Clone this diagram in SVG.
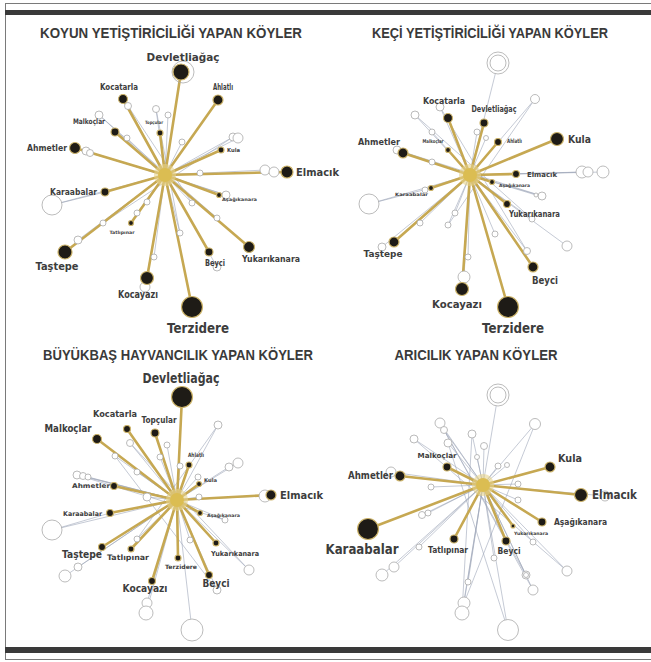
<svg xmlns="http://www.w3.org/2000/svg" width="651" height="662" viewBox="0 0 651 662">
<style>
.g{fill:none;stroke:#c6a852;stroke-width:2.6;stroke-linecap:round}
.t{fill:none;stroke:#9ea6b8;stroke-width:0.6}
.h{fill:#fff;stroke:#a9a9a9;stroke-width:0.8}
.hg{fill:none;stroke:#a9a9a9;stroke-width:0.8}
.n{fill:#1e1b16;stroke:#cdb46a;stroke-width:1.2}
.hub{fill:#dbbd52}
.glow{fill:#e8d48c;opacity:0.6}
text{font-family:"DejaVu Sans","Liberation Sans",sans-serif;font-weight:bold;fill:#3d3d3d}
.ttl{font-family:"Liberation Sans","DejaVu Sans",sans-serif;font-size:14px;fill:#3a3a3a}
</style>
<rect width="651" height="662" fill="#fff"/>
<g id="frame">
<line x1="5" y1="3.5" x2="651" y2="3.5" stroke="#7a7a7a" stroke-width="1"/>
<line x1="5.5" y1="3" x2="5.5" y2="659" stroke="#7a7a7a" stroke-width="1"/>
<rect x="5" y="10" width="646" height="5" fill="#3a3a3a"/>
<rect x="5" y="647" width="646" height="6" fill="#3a3a3a"/>
<line x1="5" y1="659.5" x2="651" y2="659.5" stroke="#7a7a7a" stroke-width="1"/>
</g>
<g id="titles">
<text class="ttl" x="171" y="38" text-anchor="middle" textLength="262" lengthAdjust="spacingAndGlyphs">KOYUN YETİŞTİRİCİLİĞİ YAPAN KÖYLER</text>
<text class="ttl" x="490" y="38" text-anchor="middle" textLength="236" lengthAdjust="spacingAndGlyphs">KEÇİ YETİŞTİRİCİLİĞİ YAPAN KÖYLER</text>
<text class="ttl" x="178" y="360" text-anchor="middle" textLength="270" lengthAdjust="spacingAndGlyphs">BÜYÜKBAŞ HAYVANCILIK YAPAN KÖYLER</text>
<text class="ttl" x="476" y="360" text-anchor="middle" textLength="163" lengthAdjust="spacingAndGlyphs">ARICILIK YAPAN KÖYLER</text>
</g>

<g id="connectors">
<path class="t" d="M165 175L128 106M165 175L99 115M165 175L156 109M165 175L168 115M165 175L182 142M165 175L233 137M165 175L238 138M165 175L86 151M165 175L90 153M165 175L127 138M165 175L265 170M165 175L274 172M165 175L52 205M165 175L226 195M165 175L200 173M165 175L137 213M165 175L103 223M165 175L78 240M165 175L192 203M165 175L180 233M165 175L217 218M165 175L154 257M165 175L217 267M165 175L145 287M165 175L147 202M52 205L105 192M128 106L192 203M99 115L217 218M233 137L103 223M156 109L180 233M86 151L226 195"/>
<path class="t" d="M470 175L498 63M470 175L415 115M470 175L440 107M470 175L535 99M470 175L432 132M470 175L582 172M470 175L588 172M470 175L603 172M470 175L369 204M470 175L425 190M470 175L542 196M470 175L536 195M470 175L567 246M470 175L527 251M470 175L468 257M470 175L464 277M470 175L495 234M470 175L448 225M470 175L455 213M470 175L420 223M470 175L382 247M470 175L532 219M470 175L477 132M470 175L486 138M470 175L397 150M470 175L432 162M369 204L431 188M415 115L532 219M440 107L527 251M535 99L448 225M397 150L542 196"/>
<path class="t" d="M177 500L218 425M177 500L77 475M177 500L83 476M177 500L88 477M177 500L229 467M177 500L238 463M177 500L265 496M177 500L52 530M177 500L65 576M177 500L78 567M177 500L147 603M177 500L146 613M177 500L192 630M177 500L249 570M177 500L225 520M177 500L217 590M177 500L190 540M177 500L137 539M177 500L130 443M177 500L167 445M177 500L115 456M177 500L160 457M177 500L180 466M177 500L137 472M177 500L198 477M177 500L147 497M177 500L199 497M52 530L110 513M130 443L249 570M115 456L217 590M218 425L137 539M77 475L225 520"/>
<path class="t" d="M483 485L498 395M483 485L440 423M483 485L535 424M483 485L414 439M483 485L444 430M483 485L448 443M483 485L472 434M483 485L484 446M483 485L477 457M483 485L498 466M483 485L507 465M483 485L391 472M483 485L431 487M483 485L518 484M483 485L422 515M483 485L428 513M483 485L533 542M483 485L567 571M483 485L526 575M483 485L533 590M483 485L468 582M483 485L464 603M483 485L462 613M483 485L508 630M483 485L382 575M483 485L394 567M483 485L419 547M483 485L494 558M483 485L605 496M483 485L518 500M440 423L526 575M414 439L567 571M444 430L533 590M535 424L464 603M448 443L508 630M472 434L462 613"/>
<path class="g" d="M165 175L181 72M165 175L218 100M165 175L123 99M165 175L115 132M165 175L160 133M165 175L75 148M165 175L221 150M165 175L287 172M165 175L105 192M165 175L219 195M165 175L131 223M165 175L65 252M165 175L209 252M165 175L249 247M165 175L147 278M165 175L192 307"/>
<path class="g" d="M470 175L448 118M470 175L484 123M470 175L498 142M470 175L557 139M470 175L403 153M470 175L448 150M470 175L516 174M470 175L492 182M470 175L431 188M470 175L507 204M470 175L394 242M470 175L533 267M470 175L462 289M470 175L508 307"/>
<path class="g" d="M177 500L182 397M177 500L127 429M177 500L97 439M177 500L155 433M177 500L189 465M177 500L199 484M177 500L114 486M177 500L271 495M177 500L110 513M177 500L200 513M177 500L102 547M177 500L131 549M177 500L178 558M177 500L216 543M177 500L209 575M177 500L152 581"/>
<path class="g" d="M483 485L447 467M483 485L550 467M483 485L400 476M483 485L581 495M483 485L542 522M483 485L513 526M483 485L506 541M483 485L454 539M483 485L368 529"/>
</g>

<g id="q1-minor">
<circle class="hg" cx="183" cy="72" r="11"/>
<circle class="h" cx="128" cy="106" r="3.5"/><circle class="h" cx="99" cy="115" r="4"/><circle class="h" cx="156" cy="109" r="3.5"/><circle class="h" cx="168" cy="115" r="3"/><circle class="h" cx="182" cy="142" r="3"/><circle class="h" cx="233" cy="137" r="4"/><circle class="h" cx="238" cy="138" r="5"/><circle class="h" cx="86" cy="151" r="4"/><circle class="h" cx="90" cy="153" r="3.5"/><circle class="h" cx="127" cy="138" r="3"/><circle class="h" cx="265" cy="170" r="5"/><circle class="h" cx="274" cy="172" r="5"/><circle class="h" cx="52" cy="205" r="10"/><circle class="h" cx="226" cy="195" r="4"/><circle class="h" cx="200" cy="173" r="3"/><circle class="h" cx="137" cy="213" r="3"/><circle class="h" cx="103" cy="223" r="3"/><circle class="h" cx="78" cy="240" r="4"/><circle class="h" cx="192" cy="203" r="3"/><circle class="h" cx="180" cy="233" r="3"/><circle class="h" cx="217" cy="218" r="3"/><circle class="h" cx="154" cy="257" r="3"/><circle class="h" cx="217" cy="267" r="4"/><circle class="h" cx="145" cy="287" r="5"/><circle class="h" cx="147" cy="202" r="3"/>
</g>
<g id="q2-minor">
<circle class="h" cx="498" cy="63" r="11"/><circle class="h" cx="498" cy="63" r="8"/>
<circle class="h" cx="415" cy="115" r="4"/><circle class="h" cx="440" cy="107" r="4"/><circle class="h" cx="535" cy="99" r="4.5"/><circle class="h" cx="432" cy="132" r="3"/><circle class="h" cx="582" cy="172" r="6"/><circle class="h" cx="588" cy="172" r="5"/><circle class="h" cx="603" cy="172" r="6"/><circle class="h" cx="369" cy="204" r="10"/><circle class="h" cx="425" cy="190" r="3"/><circle class="h" cx="542" cy="196" r="4"/><circle class="h" cx="536" cy="195" r="2"/><circle class="h" cx="567" cy="246" r="5"/><circle class="h" cx="527" cy="251" r="3.5"/><circle class="h" cx="468" cy="257" r="3"/><circle class="h" cx="464" cy="277" r="6"/><circle class="h" cx="495" cy="234" r="3"/><circle class="h" cx="448" cy="225" r="3"/><circle class="h" cx="455" cy="213" r="3"/><circle class="h" cx="420" cy="223" r="3"/><circle class="h" cx="382" cy="247" r="4"/><circle class="h" cx="532" cy="219" r="3"/><circle class="h" cx="477" cy="132" r="3"/><circle class="h" cx="486" cy="138" r="2.5"/><circle class="h" cx="397" cy="150" r="4"/><circle class="h" cx="432" cy="162" r="3"/>
</g>
<g id="q3-minor">
<circle class="h" cx="218" cy="425" r="4"/><circle class="h" cx="77" cy="475" r="4"/><circle class="h" cx="83" cy="476" r="3.5"/><circle class="h" cx="88" cy="477" r="3"/><circle class="h" cx="229" cy="467" r="4"/><circle class="h" cx="238" cy="463" r="5"/><circle class="h" cx="265" cy="496" r="6"/><circle class="h" cx="52" cy="530" r="10"/><circle class="h" cx="65" cy="576" r="6"/><circle class="h" cx="78" cy="567" r="4"/><circle class="h" cx="147" cy="603" r="5"/><circle class="h" cx="146" cy="613" r="7"/><circle class="h" cx="192" cy="630" r="11"/><circle class="h" cx="249" cy="570" r="5"/><circle class="h" cx="225" cy="520" r="3"/><circle class="h" cx="217" cy="590" r="4"/><circle class="h" cx="190" cy="540" r="3"/><circle class="h" cx="137" cy="539" r="3"/><circle class="h" cx="130" cy="443" r="3.5"/><circle class="h" cx="167" cy="445" r="3"/><circle class="h" cx="115" cy="456" r="3"/><circle class="h" cx="160" cy="457" r="3"/><circle class="h" cx="180" cy="466" r="3"/><circle class="h" cx="137" cy="472" r="3"/><circle class="h" cx="198" cy="477" r="3"/><circle class="h" cx="147" cy="497" r="4"/><circle class="h" cx="199" cy="497" r="3"/>
</g>
<g id="q4-minor">
<circle class="h" cx="498" cy="395" r="11"/><circle class="h" cx="498" cy="395" r="8"/>
<circle class="h" cx="440" cy="423" r="5"/><circle class="h" cx="535" cy="424" r="5.5"/><circle class="h" cx="414" cy="439" r="4"/><circle class="h" cx="444" cy="430" r="3.5"/><circle class="h" cx="448" cy="443" r="4"/><circle class="h" cx="472" cy="434" r="4"/><circle class="h" cx="484" cy="446" r="3.5"/><circle class="h" cx="477" cy="457" r="2.5"/><circle class="h" cx="498" cy="466" r="3"/><circle class="h" cx="507" cy="465" r="2.5"/><circle class="h" cx="391" cy="472" r="5"/><circle class="h" cx="431" cy="487" r="3"/><circle class="h" cx="518" cy="484" r="3"/><circle class="h" cx="422" cy="515" r="3.5"/><circle class="h" cx="428" cy="513" r="3"/><circle class="h" cx="533" cy="542" r="3"/><circle class="h" cx="567" cy="571" r="5"/><circle class="h" cx="526" cy="575" r="4"/><circle class="h" cx="526" cy="575" r="2.5"/><circle class="h" cx="533" cy="590" r="5"/><circle class="h" cx="468" cy="582" r="3"/><circle class="h" cx="464" cy="603" r="6"/><circle class="h" cx="462" cy="613" r="7"/><circle class="h" cx="508" cy="630" r="10.5"/><circle class="h" cx="382" cy="575" r="6"/><circle class="h" cx="394" cy="567" r="5"/><circle class="h" cx="419" cy="547" r="3"/><circle class="h" cx="494" cy="558" r="3"/><circle class="h" cx="605" cy="496" r="5"/><circle class="h" cx="518" cy="500" r="3"/>
</g>

<g id="hubs">
<circle class="glow" cx="165" cy="175" r="11"/><circle class="hub" cx="165" cy="175" r="7"/>
<circle class="glow" cx="470" cy="175" r="11"/><circle class="hub" cx="470" cy="175" r="7"/>
<circle class="glow" cx="177" cy="500" r="11"/><circle class="hub" cx="177" cy="500" r="7"/>
<circle class="glow" cx="483" cy="485" r="11"/><circle class="hub" cx="483" cy="485" r="7"/>
</g>

<g id="koyun-devletliagac"><circle class="n" cx="181" cy="72" r="8"/><text x="183" y="61" font-size="11" text-anchor="middle" textLength="73" lengthAdjust="spacingAndGlyphs">Devletliağaç</text></g>
<g id="koyun-ahlatli"><circle class="n" cx="218" cy="100" r="5"/><text x="223" y="90" font-size="8.5" text-anchor="middle" textLength="20" lengthAdjust="spacingAndGlyphs">Ahlatlı</text></g>
<g id="koyun-kocatarla"><circle class="n" cx="123" cy="99" r="4.5"/><text x="119" y="90" font-size="8" text-anchor="middle" textLength="38" lengthAdjust="spacingAndGlyphs">Kocatarla</text></g>
<g id="koyun-malkoclar"><circle class="n" cx="115" cy="132" r="4"/><text x="89" y="124" font-size="7.5" text-anchor="middle" textLength="32" lengthAdjust="spacingAndGlyphs">Malkoçlar</text></g>
<g id="koyun-topcular"><circle class="n" cx="160" cy="133" r="3"/><text x="154" y="124" font-size="4.5" text-anchor="middle" textLength="18" lengthAdjust="spacingAndGlyphs">Topçular</text></g>
<g id="koyun-ahmetler"><circle class="n" cx="75" cy="148" r="5.5"/><text x="67" y="151" font-size="9" text-anchor="end" textLength="40" lengthAdjust="spacingAndGlyphs">Ahmetler</text></g>
<g id="koyun-kula"><circle class="n" cx="221" cy="150" r="3"/><text x="227" y="152" font-size="5.5" textLength="13" lengthAdjust="spacingAndGlyphs">Kula</text></g>
<g id="koyun-elmacik"><circle class="n" cx="287" cy="172" r="6"/><text x="296" y="176" font-size="11" textLength="43" lengthAdjust="spacingAndGlyphs">Elmacık</text></g>
<g id="koyun-karaabalar"><circle class="n" cx="105" cy="192" r="4"/><text x="97" y="195" font-size="8" text-anchor="end" textLength="47" lengthAdjust="spacingAndGlyphs">Karaabalar</text></g>
<g id="koyun-asagikanara"><circle class="n" cx="219" cy="195" r="2.5"/><text x="222" y="201" font-size="4.5" textLength="35" lengthAdjust="spacingAndGlyphs">Aşağıkanara</text></g>
<g id="koyun-tatlipinar"><circle class="n" cx="131" cy="223" r="2.5"/><text x="122" y="234" font-size="4.5" text-anchor="middle" textLength="25" lengthAdjust="spacingAndGlyphs">Tatlıpınar</text></g>
<g id="koyun-tastepe"><circle class="n" cx="65" cy="252" r="7"/><text x="57" y="270" font-size="11" text-anchor="middle" textLength="43" lengthAdjust="spacingAndGlyphs">Taştepe</text></g>
<g id="koyun-beyci"><circle class="n" cx="209" cy="252" r="4"/><text x="215" y="266" font-size="8" text-anchor="middle" textLength="20" lengthAdjust="spacingAndGlyphs">Beyci</text></g>
<g id="koyun-yukarikanara"><circle class="n" cx="249" cy="247" r="5.5"/><text x="271" y="262" font-size="8.5" text-anchor="middle" textLength="58" lengthAdjust="spacingAndGlyphs">Yukarıkanara</text></g>
<g id="koyun-kocayazi"><circle class="n" cx="147" cy="278" r="6.5"/><text x="138" y="298" font-size="10" text-anchor="middle" textLength="40" lengthAdjust="spacingAndGlyphs">Kocayazı</text></g>
<g id="koyun-terzidere"><circle class="n" cx="192" cy="307" r="10.5"/><text x="198" y="333" font-size="14" text-anchor="middle" textLength="62" lengthAdjust="spacingAndGlyphs">Terzidere</text></g>

<g id="keci-kocatarla"><circle class="n" cx="448" cy="118" r="4.5"/><text x="444" y="104" font-size="9" text-anchor="middle" textLength="42" lengthAdjust="spacingAndGlyphs">Kocatarla</text></g>
<g id="keci-devletliagac"><circle class="n" cx="484" cy="123" r="4"/><text x="494" y="112" font-size="8" text-anchor="middle" textLength="45" lengthAdjust="spacingAndGlyphs">Devletliağaç</text></g>
<g id="keci-ahlatli"><circle class="n" cx="498" cy="142" r="3.5"/><text x="507" y="143" font-size="6" textLength="15" lengthAdjust="spacingAndGlyphs">Ahlatlı</text></g>
<g id="keci-kula"><circle class="n" cx="557" cy="139" r="6.5"/><text x="568" y="143" font-size="11" textLength="23" lengthAdjust="spacingAndGlyphs">Kula</text></g>
<g id="keci-ahmetler"><circle class="n" cx="403" cy="153" r="5"/><text x="379" y="145" font-size="9" text-anchor="middle" textLength="42" lengthAdjust="spacingAndGlyphs">Ahmetler</text></g>
<g id="keci-malkoclar"><circle class="n" cx="448" cy="150" r="2.5"/><text x="433" y="143" font-size="5" text-anchor="middle" textLength="21" lengthAdjust="spacingAndGlyphs">Malkoçlar</text></g>
<g id="keci-elmacik"><circle class="n" cx="516" cy="174" r="3.5"/><text x="527" y="177" font-size="7" textLength="30" lengthAdjust="spacingAndGlyphs">Elmacık</text></g>
<g id="keci-asagikanara"><circle class="n" cx="492" cy="182" r="2.5"/><text x="499" y="187" font-size="4.5" textLength="31" lengthAdjust="spacingAndGlyphs">Aşağıkanara</text></g>
<g id="keci-karaabalar"><circle class="n" cx="431" cy="188" r="2.5"/><text x="428" y="196" font-size="4.5" text-anchor="end" textLength="33" lengthAdjust="spacingAndGlyphs">Karaabalar</text></g>
<g id="keci-yukarikanara"><circle class="n" cx="507" cy="204" r="3.5"/><text x="509" y="217" font-size="8" textLength="51" lengthAdjust="spacingAndGlyphs">Yukarıkanara</text></g>
<g id="keci-tastepe"><circle class="n" cx="394" cy="242" r="5"/><text x="383" y="257" font-size="9.5" text-anchor="middle" textLength="39" lengthAdjust="spacingAndGlyphs">Taştepe</text></g>
<g id="keci-beyci"><circle class="n" cx="533" cy="267" r="5"/><text x="545" y="284" font-size="10" text-anchor="middle" textLength="26" lengthAdjust="spacingAndGlyphs">Beyci</text></g>
<g id="keci-kocayazi"><circle class="n" cx="462" cy="289" r="6.5"/><text x="457" y="308" font-size="11" text-anchor="middle" textLength="50" lengthAdjust="spacingAndGlyphs">Kocayazı</text></g>
<g id="keci-terzidere"><circle class="n" cx="508" cy="307" r="10.5"/><text x="513" y="333" font-size="14" text-anchor="middle" textLength="62" lengthAdjust="spacingAndGlyphs">Terzidere</text></g>

<g id="buyukbas-devletliagac"><circle class="n" cx="182" cy="397" r="10.5"/><text x="181" y="383" font-size="14" text-anchor="middle" textLength="77" lengthAdjust="spacingAndGlyphs">Devletliağaç</text></g>
<g id="buyukbas-kocatarla"><circle class="n" cx="127" cy="429" r="3.5"/><text x="115" y="417" font-size="9" text-anchor="middle" textLength="44" lengthAdjust="spacingAndGlyphs">Kocatarla</text></g>
<g id="buyukbas-malkoclar"><circle class="n" cx="97" cy="439" r="4.5"/><text x="68" y="432" font-size="11" text-anchor="middle" textLength="47" lengthAdjust="spacingAndGlyphs">Malkoçlar</text></g>
<g id="buyukbas-topcular"><circle class="n" cx="155" cy="433" r="4"/><text x="159" y="423" font-size="8" text-anchor="middle" textLength="35" lengthAdjust="spacingAndGlyphs">Topçular</text></g>
<g id="buyukbas-ahlatli"><circle class="n" cx="189" cy="465" r="3"/><text x="188" y="457" font-size="6" textLength="16" lengthAdjust="spacingAndGlyphs">Ahlatlı</text></g>
<g id="buyukbas-kula"><circle class="n" cx="199" cy="484" r="2.5"/><text x="204" y="482" font-size="5" textLength="13" lengthAdjust="spacingAndGlyphs">Kula</text></g>
<g id="buyukbas-ahmetler"><circle class="n" cx="114" cy="486" r="3.5"/><text x="110" y="488" font-size="6.5" text-anchor="end" textLength="38" lengthAdjust="spacingAndGlyphs">Ahmetler</text></g>
<g id="buyukbas-elmacik"><circle class="n" cx="271" cy="495" r="5"/><text x="280" y="499" font-size="11" textLength="43" lengthAdjust="spacingAndGlyphs">Elmacık</text></g>
<g id="buyukbas-karaabalar"><circle class="n" cx="110" cy="513" r="3.5"/><text x="102" y="516" font-size="6.5" text-anchor="end" textLength="39" lengthAdjust="spacingAndGlyphs">Karaabalar</text></g>
<g id="buyukbas-asagikanara"><circle class="n" cx="200" cy="513" r="2.5"/><text x="207" y="517" font-size="4.5" textLength="33" lengthAdjust="spacingAndGlyphs">Aşağıkanara</text></g>
<g id="buyukbas-tastepe"><circle class="n" cx="102" cy="547" r="3.5"/><text x="82" y="558" font-size="10.5" text-anchor="middle" textLength="40" lengthAdjust="spacingAndGlyphs">Taştepe</text></g>
<g id="buyukbas-tatlipinar"><circle class="n" cx="131" cy="549" r="3"/><text x="128" y="560" font-size="7.5" text-anchor="middle" textLength="42" lengthAdjust="spacingAndGlyphs">Tatlıpınar</text></g>
<g id="buyukbas-terzidere"><circle class="n" cx="178" cy="558" r="3"/><text x="181" y="569" font-size="6" text-anchor="middle" textLength="32" lengthAdjust="spacingAndGlyphs">Terzidere</text></g>
<g id="buyukbas-yukarikanara"><circle class="n" cx="216" cy="543" r="3"/><text x="235" y="556" font-size="7" text-anchor="middle" textLength="48" lengthAdjust="spacingAndGlyphs">Yukarıkanara</text></g>
<g id="buyukbas-beyci"><circle class="n" cx="209" cy="575" r="3.5"/><text x="216" y="587" font-size="10" text-anchor="middle" textLength="27" lengthAdjust="spacingAndGlyphs">Beyci</text></g>
<g id="buyukbas-kocayazi"><circle class="n" cx="152" cy="581" r="3.5"/><text x="145" y="592" font-size="11" text-anchor="middle" textLength="45" lengthAdjust="spacingAndGlyphs">Kocayazı</text></g>

<g id="aricilik-malkoclar"><circle class="n" cx="447" cy="467" r="4"/><text x="437" y="458" font-size="7" text-anchor="middle" textLength="39" lengthAdjust="spacingAndGlyphs">Malkoçlar</text></g>
<g id="aricilik-kula"><circle class="n" cx="550" cy="467" r="5"/><text x="558" y="462" font-size="10" textLength="24" lengthAdjust="spacingAndGlyphs">Kula</text></g>
<g id="aricilik-ahmetler"><circle class="n" cx="400" cy="476" r="5"/><text x="393" y="479" font-size="10.5" text-anchor="end" textLength="45" lengthAdjust="spacingAndGlyphs">Ahmetler</text></g>
<g id="aricilik-elmacik"><circle class="n" cx="581" cy="495" r="6.5"/><text x="592" y="499" font-size="11.5" textLength="45" lengthAdjust="spacingAndGlyphs">Elmacık</text></g>
<g id="aricilik-asagikanara"><circle class="n" cx="542" cy="522" r="4"/><text x="554" y="525" font-size="8" textLength="53" lengthAdjust="spacingAndGlyphs">Aşağıkanara</text></g>
<g id="aricilik-yukarikanara"><circle class="n" cx="513" cy="526" r="2"/><text x="531" y="535" font-size="4.5" text-anchor="middle" textLength="34" lengthAdjust="spacingAndGlyphs">Yukarıkanara</text></g>
<g id="aricilik-beyci"><circle class="n" cx="506" cy="541" r="4"/><text x="509" y="554" font-size="9.5" text-anchor="middle" textLength="23" lengthAdjust="spacingAndGlyphs">Beyci</text></g>
<g id="aricilik-tatlipinar"><circle class="n" cx="454" cy="539" r="4"/><text x="448" y="553" font-size="8" text-anchor="middle" textLength="40" lengthAdjust="spacingAndGlyphs">Tatlıpınar</text></g>
<g id="aricilik-karaabalar"><circle class="n" cx="368" cy="529" r="10.5"/><text x="362" y="554" font-size="14" text-anchor="middle" textLength="73" lengthAdjust="spacingAndGlyphs">Karaabalar</text></g>
</svg>
